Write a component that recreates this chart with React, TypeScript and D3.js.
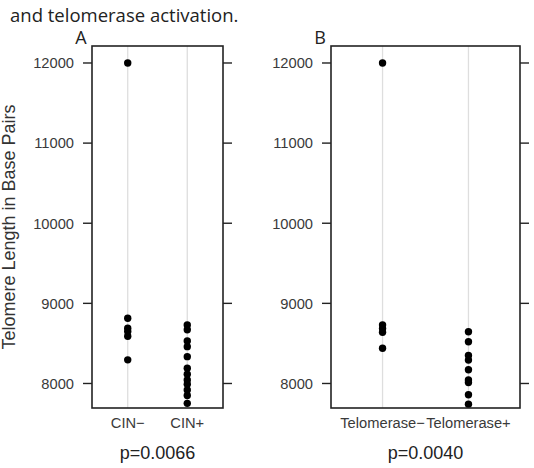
import React from "react";
import * as d3 from "d3";

// Telomere lengths (base pairs) per group
const cinCategories = ["CIN\u2212", "CIN+"];
const cinNeg = [12000, 8815, 8690, 8650, 8590, 8295];
const cinPos = [8730, 8670, 8530, 8460, 8335, 8190, 8115, 8045, 7990, 7920, 7850, 7752];

const telCategories = ["Telomerase\u2212", "Telomerase+"];
const telNeg = [12000, 8730, 8685, 8640, 8440];
const telPos = [8645, 8520, 8350, 8292, 8172, 8045, 8012, 7860, 7740];

const yTicks = [8000, 9000, 10000, 11000, 12000];
const yDomain: [number, number] = [7694, 12212];

const pValueA = "p=0.0066";
const pValueB = "p=0.0040";
const titleLine = "and telomerase activation.";
const yLabel = "Telomere Length in Base Pairs";

const W = 534;
const H = 468;
const TOP = 46;
const BOTTOM = 408;
const TICK = 9;
const axisFont = "'Liberation Sans', Arial, Helvetica, sans-serif";
const titleFont = "'Open Sans', 'Noto Sans', sans-serif";

type PanelProps = {
  letter: string;
  left: number;
  right: number;
  categories: string[];
  groups: number[][];
  pValue: string;
};

function Panel({ letter, left, right, categories, groups, pValue }: PanelProps) {
  const x = d3.scalePoint<string>().domain(categories).range([left, right]).padding(0.6);
  const y = d3.scaleLinear().domain(yDomain).range([BOTTOM, TOP]);
  const cx = (left + right) / 2;
  return (
    <g>
      <text x={left - 11} y={44} textAnchor="middle" fontFamily={titleFont} fontSize={18} fill="#222">
        {letter}
      </text>
      {categories.map((c) => (
        <line key={c} x1={x(c)} x2={x(c)} y1={TOP} y2={BOTTOM} stroke="#dedede" strokeWidth={1.3} />
      ))}
      {groups.map((vals, i) =>
        vals.map((v, j) => (
          <circle key={`${i}-${j}`} cx={x(categories[i])} cy={y(v)} r={3.7} fill="#000" />
        ))
      )}
      <rect x={left} y={TOP} width={right - left} height={BOTTOM - TOP} fill="none" stroke="#222" strokeWidth={1.6} />
      {yTicks.map((t) => (
        <g key={t}>
          <line x1={left - TICK} x2={left} y1={y(t)} y2={y(t)} stroke="#222" strokeWidth={1.4} />
          <line x1={right} x2={right + TICK} y1={y(t)} y2={y(t)} stroke="#222" strokeWidth={1.4} />
          <text
            x={left - TICK - 9}
            y={y(t)}
            dy="0.36em"
            textAnchor="end"
            fontFamily={axisFont}
            fontSize={14.7}
            fill="#3a3a3a"
          >
            {t}
          </text>
        </g>
      ))}
      {categories.map((c) => (
        <text key={c} x={x(c)} y={428} textAnchor="middle" fontFamily={axisFont} fontSize={14.7} fill="#3a3a3a">
          {c}
        </text>
      ))}
      <text x={cx} y={459} textAnchor="middle" fontFamily={axisFont} fontSize={18} fill="#222">
        {pValue}
      </text>
    </g>
  );
}

export default function App() {
  return (
    <svg
      width={W}
      height={H}
      viewBox={`0 0 ${W} ${H}`}
      style={{ position: "absolute", left: 0, top: 0, background: "#fff" }}
    >
      <rect width={W} height={H} fill="#fff" />
      <text x={10} y={22} fontFamily={titleFont} fontSize={18.5} fill="#222">
        {titleLine}
      </text>
      <text
        transform={`translate(15, ${(TOP + BOTTOM) / 2}) rotate(-90)`}
        textAnchor="middle"
        fontFamily={axisFont}
        fontSize={18}
        fill="#333"
      >
        {yLabel}
      </text>
      <Panel
        letter="A"
        left={92}
        right={223}
        categories={cinCategories}
        groups={[cinNeg, cinPos]}
        pValue={pValueA}
      />
      <Panel
        letter="B"
        left={331}
        right={520}
        categories={telCategories}
        groups={[telNeg, telPos]}
        pValue={pValueB}
      />
    </svg>
  );
}
